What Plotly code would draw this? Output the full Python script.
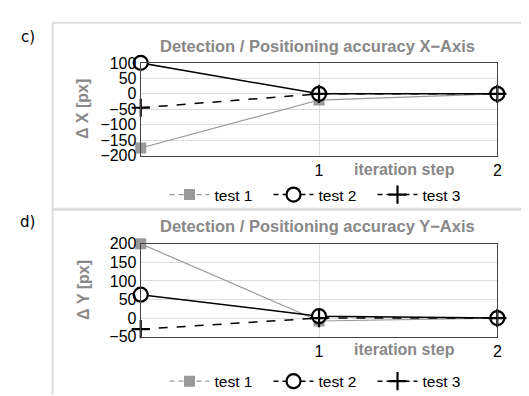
import plotly.graph_objects as go

steps = [0, 1, 2]
x_test1 = [-175, -20, 0]
x_test2 = [100, 0, 0]
x_test3 = [-45, 0, 0]
y_test1 = [200, -8, 0]
y_test2 = [63, 5, 0]
y_test3 = [-30, 0, 0]
series_names = ["test 1", "test 2", "test 3"]
x_ticks = [-200, -150, -100, -50, 0, 50, 100]
y_ticks = [-50, 0, 50, 100, 150, 200]

W, H = 529, 396
def py(p):
    return 1 - p / H
def px(p):
    return p / W

GREY = "#999999"
TXT = "#888888"
FONT = "Liberation Sans, Arial, sans-serif"
FS = 16

styles = [
    dict(line=dict(color=GREY, width=1.2), marker=dict(symbol="square", size=11, color=GREY)),
    dict(line=dict(color="black", width=1.5), marker=dict(symbol="circle", size=14, color="white", line=dict(width=2.2, color="black"))),
    dict(line=dict(color="black", width=1.5, dash="dash"), marker=dict(symbol="cross-thin", size=13, color="black", line=dict(width=2.2, color="black"))),
]

fig = go.Figure()
for (xa, ya, data, lg) in [("x", "y", [x_test1, x_test2, x_test3], "legend"),
                           ("x2", "y2", [y_test1, y_test2, y_test3], "legend2")]:
    for i, vals in enumerate(data):
        st = styles[i]
        fig.add_trace(go.Scatter(x=steps, y=vals, mode="lines+markers", xaxis=xa, yaxis=ya,
                                 line=st["line"], marker=st["marker"], showlegend=False,
                                 cliponaxis=False))
    for i, nm in enumerate(series_names):
        st = styles[i]
        ln = dict(st["line"]); ln["dash"] = "5px,4px"
        fig.add_trace(go.Scatter(x=[None], y=[None], mode="lines+markers", xaxis=xa, yaxis=ya,
                                 name=nm, line=ln, marker=st["marker"], legend=lg))

xdom = [px(134), px(494)]
common_x = dict(range=[0, 2], tickvals=[1, 2], ticktext=["1", "2"], showgrid=True, gridcolor="#dddddd",
                gridwidth=1, zeroline=False, showline=True, linecolor="#444444", linewidth=1.2,
                mirror=True, ticks="", tickfont=dict(family=FONT, size=FS, color="black"), fixedrange=True)
common_y = dict(showgrid=True, gridcolor="#dddddd", gridwidth=1, zeroline=False, showline=True,
                linecolor="#444444", linewidth=1.2, mirror=True, ticks="",
                tickfont=dict(family=FONT, size=FS, color="black"), fixedrange=True)

leg = dict(orientation="h", x=px(158), xanchor="left", yanchor="middle",
           itemwidth=40, entrywidth=49, entrywidthmode="pixels",
           font=dict(family=FONT, size=15.5, color="black"), bgcolor="rgba(0,0,0,0)")

fig.update_layout(
    width=W, height=H, margin=dict(l=0, r=0, t=0, b=0),
    paper_bgcolor="white", plot_bgcolor="white",
    xaxis=dict(domain=xdom, anchor="y", **common_x),
    yaxis=dict(domain=[py(146), py(49)], range=[-200, 100], tickvals=x_ticks, anchor="x", **common_y),
    xaxis2=dict(domain=xdom, anchor="y2", **common_x),
    yaxis2=dict(domain=[py(335), py(238)], range=[-50, 200], tickvals=y_ticks, anchor="x2", **common_y),
    legend=dict(y=py(187), **leg),
    legend2=dict(y=py(382), **leg),
)

ann = []
for (title, ytitle, ty, yc, ity, lab, laby) in [
        ("Detection / Positioning accuracy X\u2212Axis", "\u0394 X [px]", 31, 97, 160, "c)", 22),
        ("Detection / Positioning accuracy Y\u2212Axis", "\u0394 Y [px]", 219, 286, 348, "d)", 215)]:
    ann.append(dict(text="<b>%s</b>" % title, x=px(312), y=py(ty), xref="paper", yref="paper",
                    showarrow=False, xanchor="center", yanchor="middle",
                    font=dict(family=FONT, size=16.5, color=TXT)))
    ann.append(dict(text="<b>%s</b>" % ytitle, x=px(76), y=py(yc), xref="paper", yref="paper",
                    showarrow=False, textangle=-90, xanchor="center", yanchor="middle",
                    font=dict(family=FONT, size=16, color=TXT)))
    ann.append(dict(text="<b>iteration step</b>", x=px(400), y=py(ity), xref="paper", yref="paper",
                    showarrow=False, xanchor="center", yanchor="middle",
                    font=dict(family=FONT, size=16, color=TXT)))
    ann.append(dict(text=lab, x=px(20), y=py(laby), xref="paper", yref="paper",
                    showarrow=False, xanchor="center", yanchor="middle",
                    font=dict(family="DejaVu Sans", size=15, color="black")))
fig.update_layout(annotations=ann)

shapes = [
    dict(type="line", xref="paper", yref="paper", x0=px(45), x1=px(45), y0=0, y1=py(7),
         line=dict(color="#dddddd", width=2)),
    dict(type="line", xref="paper", yref="paper", x0=px(45), x1=1, y0=py(7), y1=py(7),
         line=dict(color="#dddddd", width=2)),
    dict(type="line", xref="paper", yref="paper", x0=px(45), x1=1, y0=py(202), y1=py(202),
         line=dict(color="#dddddd", width=3)),
]
fig.update_layout(shapes=shapes)

fig.write_html("out.html")
